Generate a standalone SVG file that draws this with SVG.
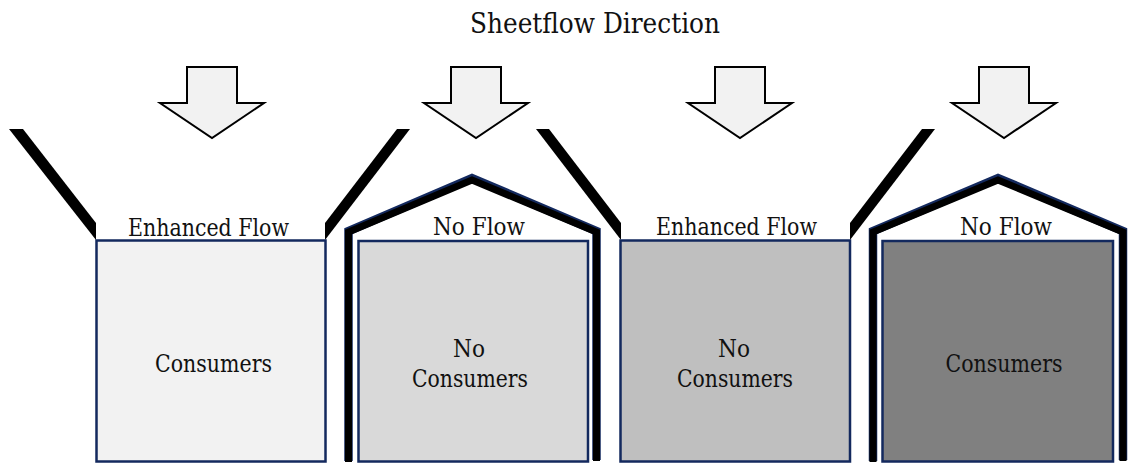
<svg xmlns="http://www.w3.org/2000/svg" width="1128" height="464" viewBox="0 0 1128 464">
<style>
text{font-family:'DejaVu Serif',serif;fill:#111;text-anchor:middle}
.lbl{font-size:23.5px}
.title{font-size:27px}
.box{stroke:#13295e;stroke-width:2.5}
.arrow{fill:#f2f2f2;stroke:#000;stroke-width:2;stroke-linejoin:miter}
.wall{fill:#000}
.roofo{fill:none;stroke:#13295e;stroke-width:8.5;stroke-linejoin:miter}
.roof{fill:none;stroke:#000;stroke-width:7;stroke-linejoin:miter}
</style>
<defs>
<path id="arr" class="arrow" d="M-25,67 H25 V103 H52 L0,138 L-52,103 H-25 Z"/>
</defs>
<rect width="1128" height="464" fill="#fff"/>
<text class="title" x="595" y="33" textLength="250" lengthAdjust="spacingAndGlyphs">Sheetflow Direction</text>
<g id="arrows">
<use href="#arr" x="212"/>
<use href="#arr" x="476"/>
<use href="#arr" x="740"/>
<use href="#arr" x="1004"/>
</g>
<g id="funnels" class="wall">
<polygon points="9,129 23,129 96,223 96,240"/>
<polygon points="410,129 397,129 325,223 325,240"/>
<polygon points="536,129 549,129 621,223 621,240"/>
<polygon points="935,129 922,129 850,223 850,240"/>
</g>
<g id="house2">
<path class="roofo" d="M348.5,461 V231 L472,178 L596.5,231 V460"/>
<path class="roof" d="M348.5,462 V232 L472,180 L596.5,232 V461"/>
</g>
<g id="house4">
<path class="roofo" d="M873,461 V231 L998,178 L1123,231 V460"/>
<path class="roof" d="M873,462 V232 L998,180 L1123,232 V461"/>
</g>
<g id="node1">
<rect class="box" x="96.5" y="240.5" width="229" height="221" fill="#f2f2f2"/>
<text class="lbl" x="208.5" y="236" textLength="161" lengthAdjust="spacingAndGlyphs">Enhanced Flow</text>
<text class="lbl" x="213.5" y="372" textLength="117" lengthAdjust="spacingAndGlyphs">Consumers</text>
</g>
<g id="node2">
<rect class="box" x="358.5" y="241" width="229.5" height="220.5" fill="#d9d9d9"/>
<text class="lbl" x="479" y="235" textLength="92" lengthAdjust="spacingAndGlyphs">No Flow</text>
<text class="lbl" x="469" y="357" textLength="32" lengthAdjust="spacingAndGlyphs">No</text>
<text class="lbl" x="470" y="387" textLength="116" lengthAdjust="spacingAndGlyphs">Consumers</text>
</g>
<g id="node3">
<rect class="box" x="620.5" y="240.5" width="229.5" height="221" fill="#bfbfbf"/>
<text class="lbl" x="736.5" y="235" textLength="161" lengthAdjust="spacingAndGlyphs">Enhanced Flow</text>
<text class="lbl" x="734" y="357" textLength="32" lengthAdjust="spacingAndGlyphs">No</text>
<text class="lbl" x="735" y="387" textLength="116" lengthAdjust="spacingAndGlyphs">Consumers</text>
</g>
<g id="node4">
<rect class="box" x="882.5" y="241" width="230.5" height="220.5" fill="#808080"/>
<text class="lbl" x="1006" y="235" textLength="92" lengthAdjust="spacingAndGlyphs">No Flow</text>
<text class="lbl" x="1004" y="372" textLength="117" lengthAdjust="spacingAndGlyphs">Consumers</text>
</g>
</svg>
